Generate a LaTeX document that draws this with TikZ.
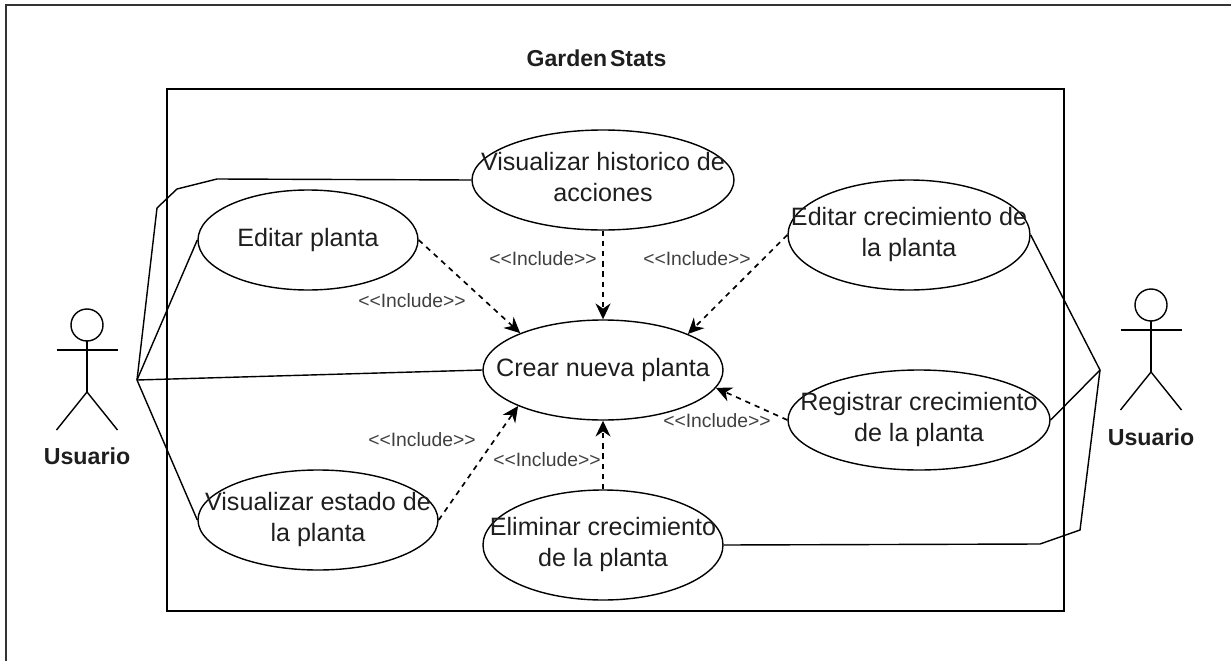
\documentclass[tikz,border=0pt]{standalone}
\usepackage{fontspec}
\setmainfont{Liberation Sans}
\definecolor{texto}{RGB}{30,30,30}
\usetikzlibrary{shapes,arrows,arrows.meta,positioning}
\newcommand{\uc}[1]{\makebox[0pt]{\raisebox{-1.2pt}{\begin{tabular}{@{}c@{}}#1\end{tabular}}}}
\tikzset{usecase/.style={ellipse, draw, inner sep=0pt, minimum width=4.8cm, minimum height=2cm, text=texto,
 font=\fontsize{14.3}{17.2}\selectfont}}
\tikzset{sistema/.style={rectangle, draw, minimum width=17.94cm, minimum height=10.44cm}}
\tikzset{titulo/.style={font=\fontsize{13.1}{15}\selectfont\bfseries, text=texto}}
\tikzset{include/.style={font=\fontsize{11}{13}\selectfont, text=texto!85, inner sep=0pt}}
\tikzset{line/.style={draw, line width=0.95pt, dash pattern=on 3pt off 2.8pt, -{Stealth[length=9pt,width=8.5pt]}}}
\tikzset{assoc/.style={draw}}
\tikzset{actor/.pic={
 \draw (0,0.06) circle (0.32);
 \draw (-0.61,-0.44) -- (0.61,-0.44);
 \draw (0,-0.26) -- (0,-1.28);
 \draw (-0.61,-2.04) -- (0,-1.28) -- (0.61,-2.04);}}

\begin{document}
\begin{tikzpicture}[line width=0.8pt, node distance=3.8cm]
        \useasboundingbox (0,0) rectangle (24.62,-13.22);
        \draw[black!80] (0.12,-13.22) |- (24.62,-0.1);
        \node[sistema] at (12.31,-7)      (panel){};
        \node[titulo] at (11.93,-1.16)    (nombre){\spaceskip=0.12em Garden Stats};

        \node[usecase] at (12.06,-7.4)    (crear){\uc{Crear nueva planta}};
        \node[usecase, minimum width=5.24cm, above of=crear]   (historico){\uc{Visualizar historico de\\acciones}};
        \node[usecase, minimum width=4.4cm] at (6.16,-4.8)     (editar){\uc{Editar planta}};
        \node[usecase] at (6.36,-10.4)    (estado){\uc{Visualizar estado de\\la planta}};
        \node[usecase, minimum height=2.2cm, node distance=3.5cm, below of=crear]    (eliminar){\uc{Eliminar crecimiento\\de la planta}};
        \node[usecase, minimum width=4.84cm, minimum height=2.2cm] at (18.18,-4.7)   (crecimiento){\uc{Editar crecimiento de\\la planta}};
        \node[usecase, minimum width=5.24cm] at (18.38,-8.4)   (registrar){\uc{Registrar crecimiento\\de la planta}};

        \path[line] (editar.east) --      (crear.156);
        \path[line] (historico) --        (crear);
        \path[line] (crecimiento.west) -- (crear.23);
        \path[line] (registrar.west) --   (crear.-9);
        \path[line] (eliminar) --         (crear);
        \path[line] (estado.east) --      (crear.203);

        \node[include] at (8.24,-6.02)    (inca){<{}<Include>{}>};
        \node[include] at (10.86,-5.18)   (incb){<{}<Include>{}>};
        \node[include] at (13.94,-5.18)   (incc){<{}<Include>{}>};
        \node[include] at (14.34,-8.42)   (incd){<{}<Include>{}>};
        \node[include] at (10.94,-9.2)    (ince){<{}<Include>{}>};
        \node[include] at (8.44,-8.8)     (incf){<{}<Include>{}>};

        \pic at (1.74,-6.56) {actor};
        \node[titulo, font=\fontsize{13.2}{15}\selectfont\bfseries] at (1.74,-9.12)   (usuarioa){Usuario};
        \pic at (23.02,-6.16) {actor};
        \node[titulo, font=\fontsize{13.2}{15}\selectfont\bfseries] at (23.02,-8.74)  (usuariob){Usuario};

        \coordinate (manoa) at (2.74,-7.6);
        \coordinate (manob) at (22,-7.4);

        \path[assoc] (manoa) -- (3.14,-4.16) -- (3.54,-3.78) -- (4.34,-3.58) -- (historico.180);
        \path[assoc] (manoa) -- (editar.west);
        \path[assoc] (manoa) -- (crear.west);
        \path[assoc] (manoa) -- (estado.west);
        \path[assoc] (manob) -- (crecimiento.east);
        \path[assoc] (manob) -- (registrar.east);
        \path[assoc] (manob) -- (21.6,-10.6) -- (20.8,-10.88) -- (eliminar.east);
      \end{tikzpicture}
\end{document}
